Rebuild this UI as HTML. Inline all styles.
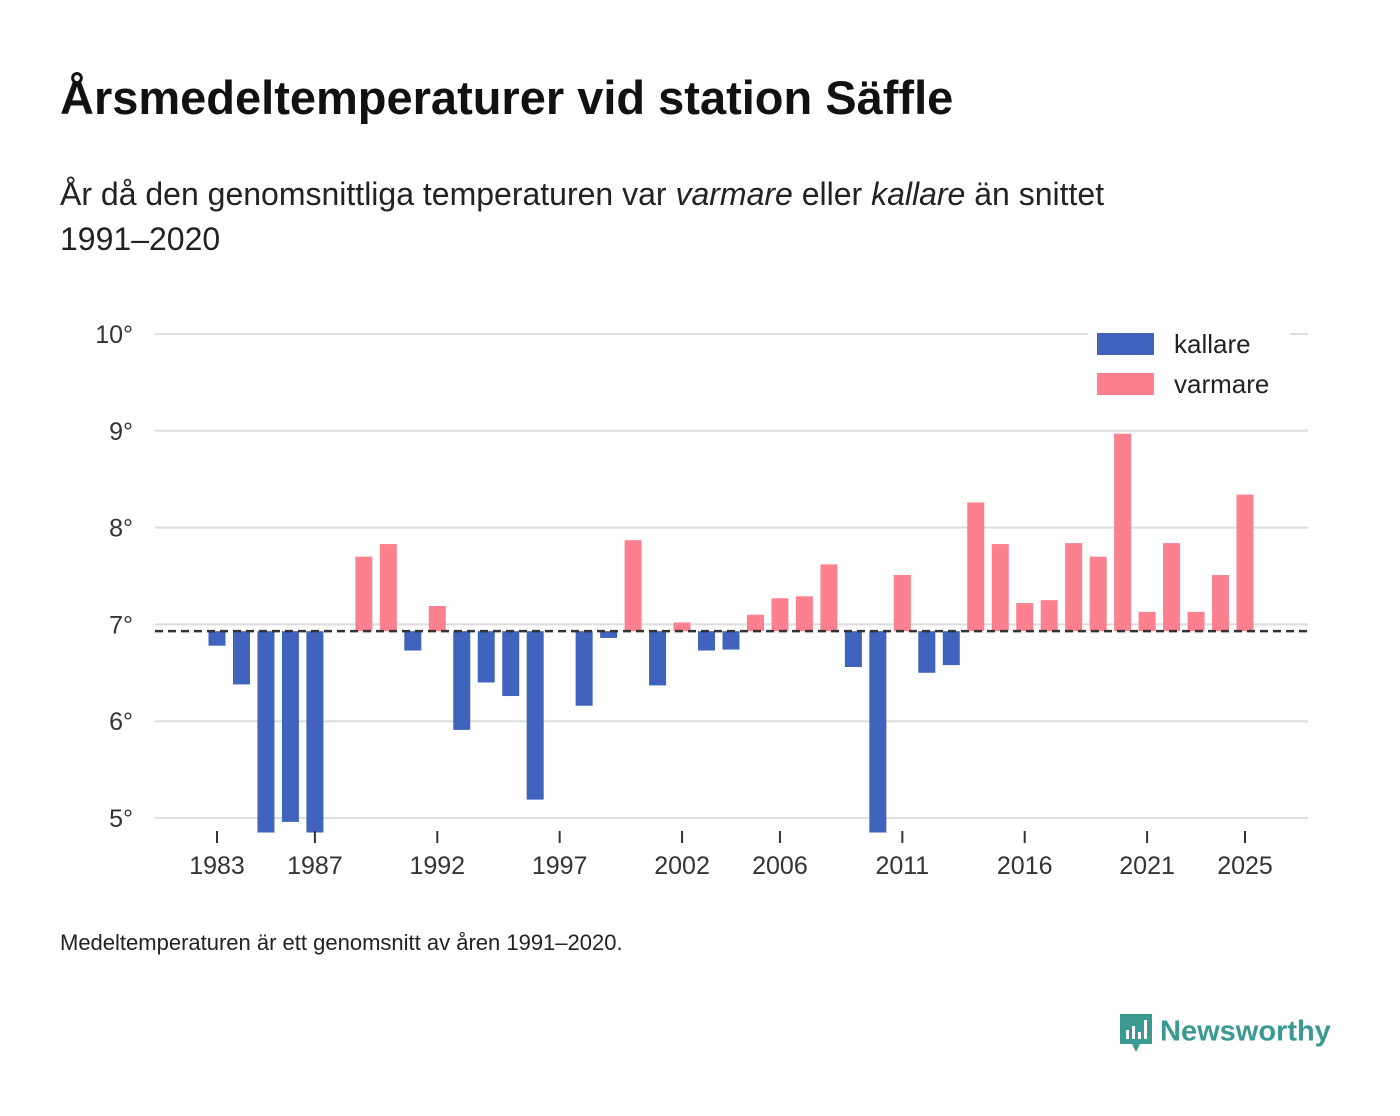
<!DOCTYPE html>
<html><head><meta charset="utf-8"><style>
body{margin:0;background:#fff;font-family:"Liberation Sans","DejaVu Sans",sans-serif;}
#wrap{position:relative;width:1400px;height:1116px;overflow:hidden;}
h1{position:absolute;left:60px;top:70px;margin:0;font-size:47px;font-weight:bold;color:#111;}
.sub{position:absolute;left:60px;top:172px;width:1250px;font-size:32px;line-height:45px;color:#222;}
.note{position:absolute;left:60px;top:930px;font-size:22px;color:#222;}
.logo{position:absolute;left:1118px;top:1012px;font-size:29px;font-weight:bold;color:#3a9a92;}
</style></head><body><div id="wrap">
<h1>Årsmedeltemperaturer vid station Säffle</h1>
<div class="sub">År då den genomsnittliga temperaturen var <i>varmare</i> eller <i>kallare</i> än snittet<br>1991–2020</div>
<svg id="chart" width="1400" height="1116" style="position:absolute;left:0;top:0"></svg>
<div class="note">Medeltemperaturen är ett genomsnitt av åren 1991–2020.</div>
<div class="logo"><svg width="36" height="42" style="vertical-align:middle;margin-right:6px"><path d="M2 2h32v30h-12l-4 8-4-8H2z" fill="#3a9a92"/><rect x="8" y="18" width="3" height="9" fill="#fff"/><rect x="14" y="14" width="3" height="13" fill="#fff"/><rect x="20" y="20" width="3" height="7" fill="#fff"/><rect x="26" y="8" width="3" height="19" fill="#fff"/></svg>Newsworthy</div>
</div>
<script>
const years=[1983,1984,1985,1986,1987,1988,1989,1990,1991,1992,1993,1994,1995,1996,1997,1998,1999,2000,2001,2002,2003,2004,2005,2006,2007,2008,2009,2010,2011,2012,2013,2014,2015,2016,2017,2018,2019,2020,2021,2022,2023,2024,2025];
const temps=[6.78,6.38,4.7,4.96,4.7,null,7.70,7.83,6.73,7.19,5.91,6.40,6.26,5.19,null,6.16,6.86,7.87,6.37,7.02,6.73,6.74,7.10,7.27,7.29,7.62,6.56,4.7,7.51,6.50,6.58,8.26,7.83,7.22,7.25,7.84,7.70,8.97,7.13,7.84,7.13,7.51,8.34];
const baseline=6.93;
const yTicks=[5,6,7,8,9,10];
const xTicks=[1983,1987,1992,1997,2002,2006,2011,2016,2021,2025];
const NS="http://www.w3.org/2000/svg";
const svg=document.getElementById('chart');
const yMin=4.85;
const y=v=>334+(10-Math.max(v,yMin))*96.8;
const x=yr=>217+(yr-1983)*(1028/42);
function mk(t,a,p){const e=document.createElementNS(NS,t);for(const k in a)e.setAttribute(k,a[k]);(p||svg).appendChild(e);return e;}
yTicks.forEach(t=>{
 const g=mk('line',{x1:155,x2:1308,y1:y(t),y2:y(t),stroke:'#ddd','stroke-width':2});
 
 
 const l=mk('text',{x:133,y:y(t)+9,'text-anchor':'end','font-size':25,fill:'#333','font-family':'Liberation Sans, sans-serif'});
 l.textContent=t+'°';
 
 
});
years.forEach((yr,i)=>{
 const v=temps[i]; if(v==null)return;
 const y0=y(baseline),y1=y(v);
 const r=mk('rect',{x:x(yr)-8.5,width:17,y:Math.min(y0,y1),height:Math.abs(y1-y0),fill:v>=baseline?'#fd808e':'#4063bd'});
 
 
});
const bl=mk('line',{x1:155,x2:1308,y1:y(baseline),y2:y(baseline),stroke:'#333','stroke-width':2.5,'stroke-dasharray':'8,5'});


xTicks.forEach(t=>{
 const tk=mk('line',{x1:x(t),x2:x(t),y1:831,y2:843,stroke:'#333','stroke-width':2});
 
 
 const l=mk('text',{x:x(t),y:874,'text-anchor':'middle','font-size':25,fill:'#333','font-family':'Liberation Sans, sans-serif'});
 l.textContent=t;
 
 
});
const lg=mk('g',{});


mk('rect',{x:1088,y:325,width:202,height:85,fill:'#fff'},lg);
[['kallare','#4063bd',344],['varmare','#fd808e',384]].forEach(([n,c,cy])=>{
 const s=mk('rect',{x:1097,y:cy-11,width:57,height:22,fill:c},lg);
 
 
 const t=mk('text',{x:1174,y:cy+9,'font-size':26,fill:'#222','font-family':'Liberation Sans, sans-serif'},lg);
 t.textContent=n;
 
 
});
</script></body></html>
